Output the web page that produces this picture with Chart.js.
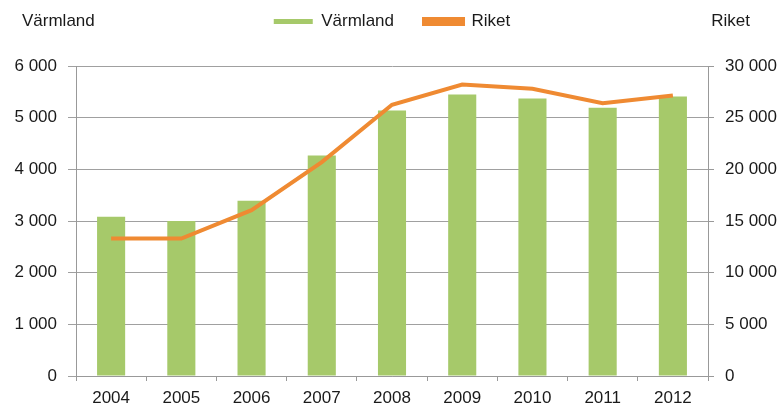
<!DOCTYPE html>
<html>
<head>
<meta charset="utf-8">
<script src="https://cdn.jsdelivr.net/npm/chart.js@4"></script>
<style>
  html, body { margin: 0; padding: 0; background: #fff; }
  #wrap { width: 784px; height: 408px; position: relative; }
</style>
</head>
<body>
<div id="wrap"><canvas id="barChart" width="784" height="408"></canvas></div>
<script>
// data
const years = ['2004', '2005', '2006', '2007', '2008', '2009', '2010', '2011', '2012'];
const varmland = [3080, 3000, 3390, 4270, 5140, 5450, 5370, 5190, 5410];
const riket = [13300, 13300, 16050, 20700, 26250, 28200, 27800, 26400, 27150];
const leftTicks = [0, 1000, 2000, 3000, 4000, 5000, 6000];
const rightTicks = [0, 5000, 10000, 15000, 20000, 25000, 30000];

const fmt = v => String(v).replace(/\B(?=(\d{3})+(?!\d))/g, ' ');
const font = { family: '"Liberation Sans", Arial, sans-serif', size: 17, lineHeight: 1 };

// axis titles at the top corners
const cornerTitles = {
  id: 'cornerTitles',
  afterDraw(chart) {
    const c = chart.ctx;
    c.save();
    c.font = '17px "Liberation Sans", Arial, sans-serif';
    c.fillStyle = '#1a1a1a';
    c.textBaseline = 'middle';
    c.textAlign = 'left';
    c.fillText('Värmland', 22, 21);
    c.textAlign = 'right';
    c.fillText('Riket', 750, 21);
    c.restore();
  }
};

const ctx = document.getElementById('barChart').getContext('2d');
const barChart = new Chart(ctx, {
  type: 'bar',
  data: {
    labels: years,
    datasets: [
      {
        type: 'line',
        label: 'Riket',
        data: riket,
        yAxisID: 'y1',
        borderColor: '#EF8A32',
        backgroundColor: '#EF8A32',
        borderWidth: 4,
        pointRadius: 0,
        tension: 0,
        order: 0
      },
      {
        label: 'Värmland',
        data: varmland,
        yAxisID: 'y',
        backgroundColor: '#A6C96A',
        borderWidth: 0,
        categoryPercentage: 1,
        barPercentage: 0.4,
        order: 1
      }
    ]
  },
  options: {
    responsive: false,
    animation: false,
    layout: { padding: { top: -17, bottom: 0, left: 0, right: 0 } },
    plugins: {
      tooltip: { enabled: false },
      legend: {
        position: 'top',
        reverse: true,
        labels: {
          color: '#1a1a1a',
          font: font,
          boxWidth: 39,
          boxHeight: 5,
          padding: 30
        }
      }
    },
    scales: {
      x: {
        offset: true,
        afterFit: s => { s.height = 32; },
        grid: { offset: true, drawOnChartArea: false, drawTicks: true, tickLength: 5, color: '#999' },
        border: { color: '#999' },
        ticks: { color: '#1a1a1a', font: font, padding: 9, maxRotation: 0 }
      },
      // empty strip between legend and plot
      spacer: {
        type: 'category',
        position: 'top',
        grid: { display: false },
        border: { display: false },
        ticks: { display: false },
        afterFit: s => { s.height = 26; }
      },
      y: {
        position: 'left',
        min: 0,
        max: 6000,
        afterBuildTicks: s => { s.ticks = leftTicks.map(v => ({ value: v })); },
        afterFit: s => { s.width = 76; },
        grid: { color: '#a0a0a0', tickLength: 8 },
        border: { color: '#999' },
        ticks: { color: '#1a1a1a', font: font, padding: 11, callback: v => fmt(v) }
      },
      y1: {
        position: 'right',
        min: 0,
        max: 30000,
        afterBuildTicks: s => { s.ticks = rightTicks.map(v => ({ value: v })); },
        afterFit: s => { s.width = 76; },
        grid: { drawOnChartArea: false, color: '#999', tickLength: 6 },
        border: { color: '#999' },
        ticks: { color: '#1a1a1a', font: font, padding: 11, callback: v => fmt(v) }
      }
    }
  },
  plugins: [cornerTitles]
});
</script>
</body>
</html>
